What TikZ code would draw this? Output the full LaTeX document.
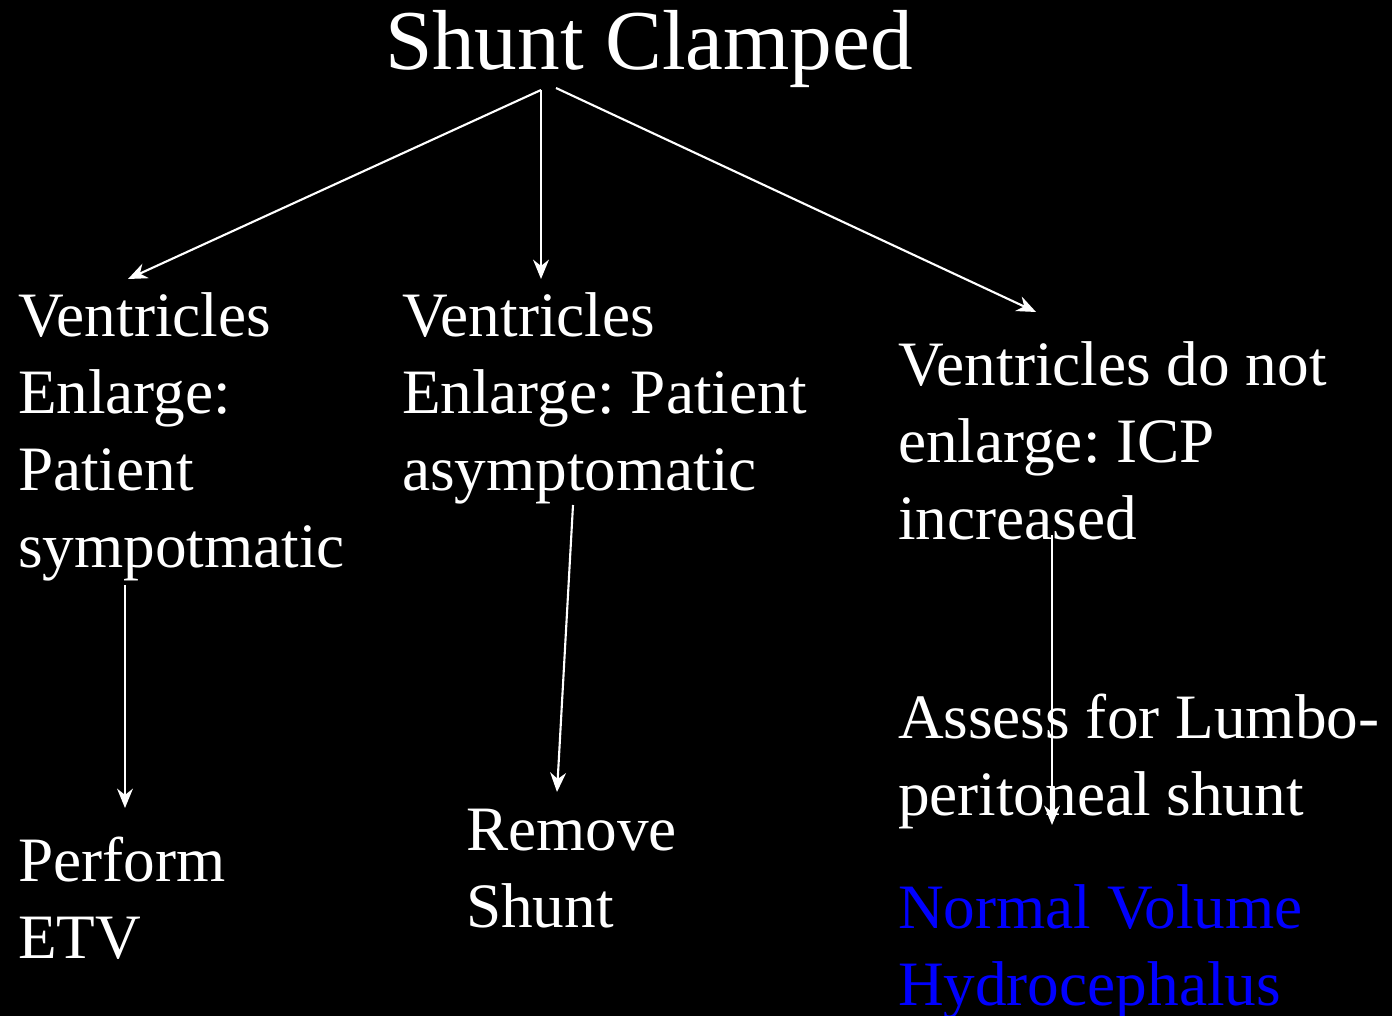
\documentclass[tikz,border=0pt]{standalone}
\usepackage{fontspec}
\setmainfont{Liberation Serif}
\usetikzlibrary{arrows.meta}
\definecolor{nvhblue}{RGB}{0,0,255}
\frenchspacing
\begin{document}
\begin{tikzpicture}[
      x=0.02cm, y=-0.02cm,
      every node/.style={text=white, inner sep=0pt, outer sep=0pt},
      title/.style={font=\fontsize{48.5}{58}\selectfont, anchor=base west},
      item/.style={font=\fontsize{36}{43.7}\selectfont, align=left, anchor=base west},
      link/.style={draw=white, line width=1.2pt, -{Stealth[length=11pt, width=9pt]}},
    ]
    \fill[black] (0,0) rectangle (1392,1016);
    \useasboundingbox (0,0) rectangle (1392,1016);

    % --- top ---
    \node[title] (clamp) at (385,70) {Shunt Clamped};

    % --- second row (anchored at last line) ---
    \node[item] (symp) at (18,567) {Ventricles\\Enlarge:\\Patient\\sympotmatic};
    \node[item] (asymp) at (402,490) {Ventricles\\Enlarge: Patient\\asymptomatic};
    \node[item] (icp) at (898,539) {Ventricles do not\\enlarge: ICP\\increased};

    % --- third row ---
    \node[item] (etv) at (18,958) {Perform\\ETV};
    \node[item] (remove) at (466,927) {Remove\\Shunt};
    \node[item] (lumbo) at (898,815) {Assess for Lumbo-\\peritoneal shunt};
    \node[item, text=nvhblue] (nvh) at (898,1005) {Normal Volume\\Hydrocephalus};

    % arrow ends
    \coordinate (c1) at (541,90);
    \coordinate (c2) at (556,88);
    \coordinate (s1) at (125,585);
    \coordinate (s2) at (573,505);
    \coordinate (s3) at (1052,535);
    \coordinate (t1) at (128,279);
    \coordinate (t2) at (541,279);
    \coordinate (t3) at (1036,312);
    \coordinate (e1) at (125,808);
    \coordinate (e2) at (557,792);
    \coordinate (e3) at (1052,825);

    \draw[link] (c1) -- (t1);
    \draw[link] (c1) -- (t2);
    \draw[link] (c2) -- (t3);
    \draw[link] (s1) -- (e1);
    \draw[link] (s2) -- (e2);
    \draw[link] (s3) -- (e3);
\end{tikzpicture}
\end{document}
